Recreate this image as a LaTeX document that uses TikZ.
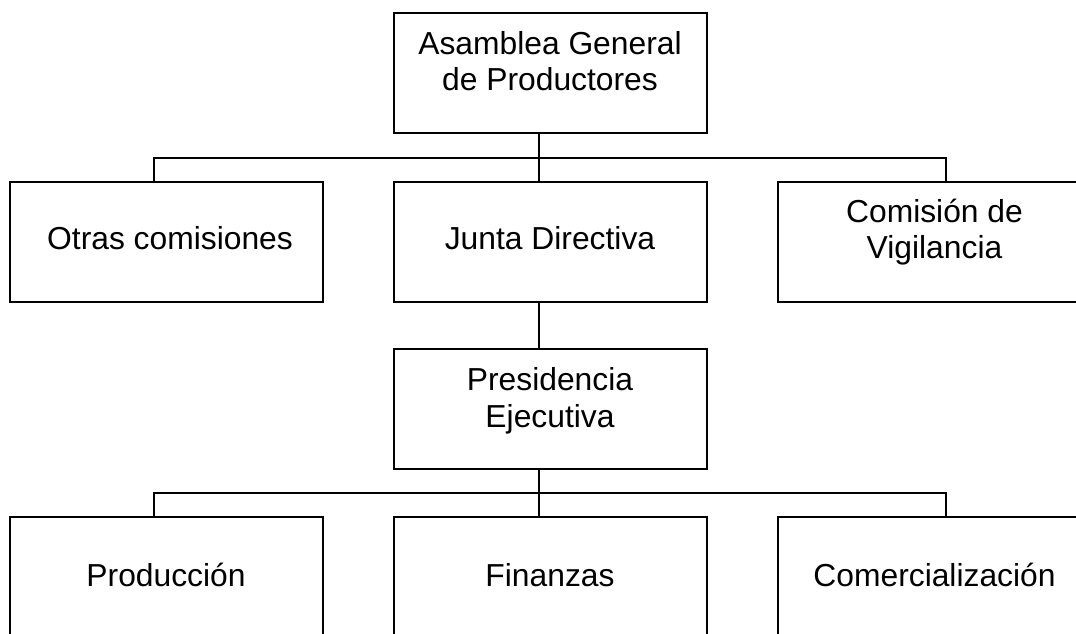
\documentclass[tikz,border=0pt]{standalone}
\usepackage{fontspec}
\setmainfont{Liberation Sans}
\begin{document}
\begin{tikzpicture}[x=1pt,y=-1pt,
  box/.style={draw, line width=1.8pt, minimum width=313pt, minimum height=120pt,
    inner sep=0pt, outer sep=0pt, anchor=north west},
  txt/.style={anchor=north, align=center, inner sep=0pt, outer sep=0pt,
    font=\fontsize{31.8}{36.3}\selectfont},
  conn/.style={line width=1.8pt}]
\useasboundingbox (0,0) rectangle (1076,633);
\clip (0,0) rectangle (1076,633);
% boxes
\node[box] (asamblea) at (394,13.3) {};
\node[box] (otras) at (9.6,181.7) {};
\node[box] (junta) at (394,181.7) {};
\node[box] (comision) at (778,181.7) {};
\node[box] (presidencia) at (394,349.3) {};
\node[box, minimum height=160pt] (produccion) at (9.6,517.3) {};
\node[box, minimum height=160pt] (finanzas) at (394,517.3) {};
\node[box, minimum height=160pt] (comercial) at (778,517.3) {};
% texts
\node[txt] (tasamblea) at (550,24.5) {\rule{0pt}{30pt}Asamblea General\\de Productores};
\node[txt] (totras) at (170,219.5) {\rule{0pt}{30pt}Otras comisiones};
\node[txt] (tjunta) at (550,219.5) {\rule{0pt}{30pt}Junta Directiva};
\node[txt] (tcomision) at (934.5,192) {\rule{0pt}{30pt}Comisión de\\Vigilancia};
\node[txt] (tpresidencia) at (550,360.7) {\rule{0pt}{30pt}Presidencia\\Ejecutiva};
\node[txt] (tproduccion) at (166,556) {\rule{0pt}{30pt}Producción};
\node[txt] (tfinanzas) at (550,556) {\rule{0pt}{30pt}Finanzas};
\node[txt] (tcomercial) at (934.5,556) {\rule{0pt}{30pt}Comercialización};
% connectors
\draw[conn] ([xshift=-11.5pt]asamblea.south) -- ([xshift=-11.5pt]junta.north);
\draw[conn] ([xshift=-12pt]otras.north) -- ++(0,-23.7) -| ([xshift=11.5pt]comision.north);
\draw[conn] ([xshift=-11.5pt]junta.south) -- ([xshift=-11.5pt]presidencia.north);
\draw[conn] ([xshift=-11.5pt]presidencia.south) -- ([xshift=-11.5pt]finanzas.north);
\draw[conn] ([xshift=-12pt]produccion.north) -- ++(0,-24.3) -| ([xshift=11.5pt]comercial.north);
\end{tikzpicture}
\end{document}
